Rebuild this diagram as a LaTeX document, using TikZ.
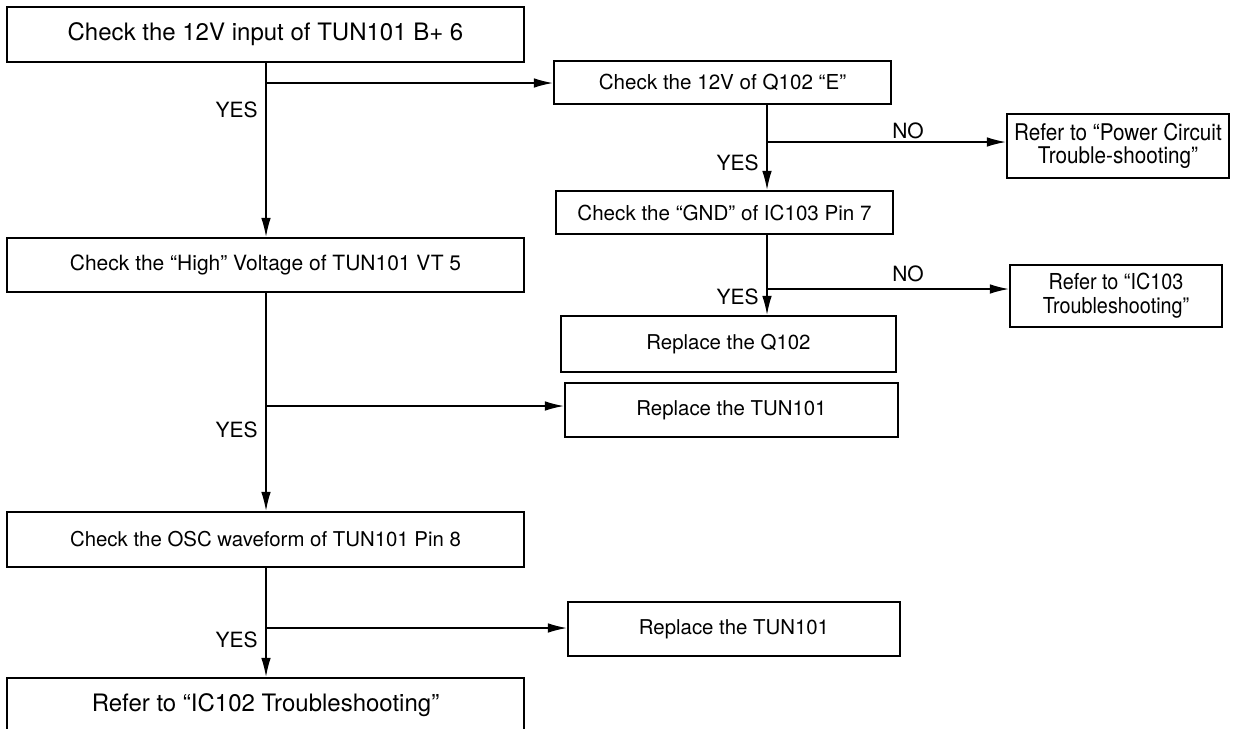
\documentclass[tikz,border=0pt]{standalone}
\usepackage{fontspec}
\setmainfont{TeX Gyre Heros}
\newfontfamily\narrowfont[FakeStretch=0.9]{TeX Gyre Heros}
\usetikzlibrary{arrows.meta}
\tikzset{
  box/.style={draw, line width=1.2pt, inner sep=0pt, align=center},
  conn/.style={line width=0.6pt},
  arr/.style={conn, -{Latex[length=9.5pt,width=4.8pt]}},
  lbl/.style={inner sep=0pt, font=\fontsize{10.5pt}{12pt}\selectfont},
}
\begin{document}
\begin{tikzpicture}[x=0.5pt,y=-0.5pt]
\useasboundingbox (0,0) rectangle (1233,729);

% left column
\node[box, minimum width=258.5pt, minimum height=27.5pt, font=\fontsize{12pt}{14pt}\selectfont]
  (A) at (265.5,34.5) {Check the 12V input of TUN101 B+ 6};
\node[box, minimum width=258.5pt, minimum height=27pt, font=\fontsize{10.5pt}{12pt}\selectfont]
  (H) at (265.5,265) {Check the “High” Voltage of TUN101 VT 5};
\node[box, minimum width=258.5pt, minimum height=27.5pt, font=\fontsize{10.2pt}{12pt}\selectfont]
  (I) at (265.5,539.5) {Check the OSC waveform of TUN101 Pin 8};
\node[box, minimum width=258.5pt, minimum height=27.5pt, font=\fontsize{12pt}{14pt}\selectfont]
  (K) at (265.5,705.5) {Refer to “IC102 Troubleshooting”};

% right column
\node[box, minimum width=168.5pt, minimum height=21.5pt, font=\fontsize{10.3pt}{12pt}\selectfont]
  (B) at (722.5,82.5) {Check the 12V of Q102 “E”};
\node[box, minimum width=111pt, minimum height=32pt, font=\narrowfont\fontsize{11.5pt}{11.5pt}\selectfont]
  (C) at (1118,146) {Refer to “Power Circuit\\Trouble-shooting”};
\node[box, minimum width=168.5pt, minimum height=21.5pt, font=\fontsize{10.3pt}{12pt}\selectfont]
  (D) at (724.5,212.5) {Check the “GND” of IC103 Pin 7};
\node[box, minimum width=106pt, minimum height=31pt, font=\narrowfont\fontsize{11pt}{12pt}\selectfont]
  (E) at (1116,296) {Refer to “IC103\\Troubleshooting”};
\node[box, minimum width=167.5pt, minimum height=28pt, font=\fontsize{10.2pt}{12pt}\selectfont]
  (F) at (728.5,344) {Replace the Q102};
\node[box, minimum width=166.5pt, minimum height=27pt, font=\fontsize{10.2pt}{12pt}\selectfont]
  (G) at (731.5,410) {Replace the TUN101};
\node[box, minimum width=166pt, minimum height=27pt, font=\fontsize{10.2pt}{12pt}\selectfont]
  (J) at (734,629) {Replace the TUN101};

% branch points
\coordinate (tx) at (266,0);
\coordinate (rx) at (767,0);
\coordinate (p1) at (266,83);
\coordinate (p2) at (767,142);
\coordinate (p3) at (767,289);
\coordinate (p4) at (266,406);
\coordinate (p5) at (266,628);

% connectors
\draw[arr] (A.south -| tx) -- (H.north -| tx);
\draw[arr] (p1) -- (p1 -| B.west);
\draw[arr] (B.south -| rx) -- (D.north -| rx);
\draw[arr] (p2) -- (p2 -| C.west);
\draw[arr] (D.south -| rx) -- (F.north -| rx);
\draw[arr] (p3) -- (p3 -| E.west);
\draw[arr] (H.south -| tx) -- (I.north -| tx);
\draw[arr] (p4) -- (p4 -| G.west);
\draw[arr] (I.south -| tx) -- (K.north -| tx);
\draw[arr] (p5) -- (p5 -| J.west);

% answers
\node[lbl, anchor=east] (y1) at (258,110) {YES};
\node[lbl, anchor=east] (y2) at (759,163) {YES};
\node[lbl, anchor=south] (n1) at (908,139) {NO};
\node[lbl, anchor=east] (y3) at (759,297) {YES};
\node[lbl, anchor=south] (n2) at (908,282) {NO};
\node[lbl, anchor=east] (y4) at (258,430) {YES};
\node[lbl, anchor=east] (y5) at (258,640) {YES};
\end{tikzpicture}
\end{document}
